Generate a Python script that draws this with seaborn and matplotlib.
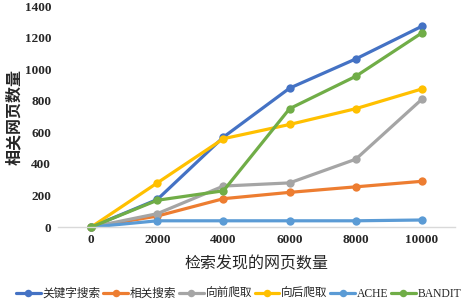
import numpy as np
import pandas as pd
import matplotlib.pyplot as plt
import seaborn as sns

# data
pages = [0, 2000, 4000, 6000, 8000, 10000]
keyword = [0, 175, 570, 880, 1065, 1272]
related = [0, 70, 180, 220, 255, 290]
forward = [0, 85, 260, 280, 430, 810]
backward = [0, 280, 560, 650, 750, 875]
ache = [0, 40, 40, 40, 40, 45]
bandit = [0, 170, 230, 750, 955, 1230]

names = ['关键字搜索', '相关搜索', '向前爬取', '向后爬取', 'ACHE', 'BANDIT']
colors = ['#4472C4', '#ED7D31', '#A5A5A5', '#FFC000', '#5B9BD5', '#70AD47']
series = [keyword, related, forward, backward, ache, bandit]

df = pd.DataFrame({
    'x': pages * len(names),
    'y': sum(series, []),
    'method': np.repeat(names, len(pages)),
})

sns.set_style('white')
plt.rcParams['font.family'] = ['Liberation Serif', 'Noto Sans CJK SC']

fig, ax = plt.subplots(figsize=(4.72, 3.02), dpi=100)
fig.subplots_adjust(left=0.123, right=0.964, top=0.98, bottom=0.248)

sns.lineplot(data=df, x='x', y='y', hue='method', hue_order=names,
             palette=colors, marker='o', markersize=6, markeredgewidth=0,
             linewidth=2.3, ax=ax, clip_on=False, legend=True)

ax.set_xlim(-1000, 11000)
ax.set_ylim(0, 1400)
ax.set_xticks(pages)
ax.set_yticks(range(0, 1401, 200))
ax.tick_params(length=0, labelsize=9.5, pad=5)
for lab in ax.get_xticklabels() + ax.get_yticklabels():
    lab.set_fontweight('bold')
for s in ['top', 'right', 'left']:
    ax.spines[s].set_visible(False)
ax.spines['bottom'].set_color('#d9d9d9')
ax.spines['bottom'].set_linewidth(1)

ax.set_xlabel('检索发现的网页数量', fontsize=11.5, family=['Noto Sans CJK SC'], labelpad=7)
ax.set_ylabel('相关网页数量', fontsize=11.5, family=['Noto Sans CJK SC'],
              fontweight='bold', labelpad=2)

leg = ax.legend(loc='upper center', bbox_to_anchor=(0.455, -0.255), ncol=6, frameon=False,
                handlelength=2.1, handletextpad=0.15, columnspacing=0.25,
                borderaxespad=0, markerscale=0.9,
                prop={'family': ['Liberation Serif', 'Noto Sans CJK SC'], 'size': 8.4})

fig.savefig('out.png', dpi=100)
